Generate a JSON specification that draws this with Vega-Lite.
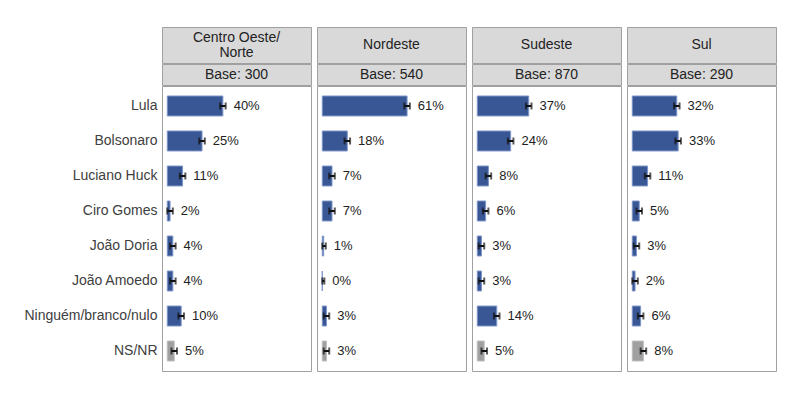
{
  "$schema": "https://vega.github.io/schema/vega-lite/v6.json",
  "background": "white",
  "padding": {"left": 23, "top": 26, "right": 0, "bottom": 0},
  "spacing": -2,
  "datasets": {
    "heads": [
      {"region": "Centro Oeste/Norte", "l1": "Centro Oeste/", "l2": "Norte", "base": "Base: 300"},
      {"region": "Nordeste", "l0": "Nordeste", "base": "Base: 540"},
      {"region": "Sudeste", "l0": "Sudeste", "base": "Base: 870"},
      {"region": "Sul", "l0": "Sul", "base": "Base: 290"}
    ],
    "votes": [
      {"region": "Centro Oeste/Norte", "cand": "Lula", "grp": "cand", "pct": 40, "lo": 38, "hi": 42, "lab": "40%"},
      {"region": "Centro Oeste/Norte", "cand": "Bolsonaro", "grp": "cand", "pct": 25, "lo": 23, "hi": 27, "lab": "25%"},
      {"region": "Centro Oeste/Norte", "cand": "Luciano Huck", "grp": "cand", "pct": 11, "lo": 9, "hi": 13, "lab": "11%"},
      {"region": "Centro Oeste/Norte", "cand": "Ciro Gomes", "grp": "cand", "pct": 2, "lo": 0, "hi": 4, "lab": "2%"},
      {"region": "Centro Oeste/Norte", "cand": "João Doria", "grp": "cand", "pct": 4, "lo": 2, "hi": 6, "lab": "4%"},
      {"region": "Centro Oeste/Norte", "cand": "João Amoedo", "grp": "cand", "pct": 4, "lo": 2, "hi": 6, "lab": "4%"},
      {"region": "Centro Oeste/Norte", "cand": "Ninguém/branco/nulo", "grp": "cand", "pct": 10, "lo": 8, "hi": 12, "lab": "10%"},
      {"region": "Centro Oeste/Norte", "cand": "NS/NR", "grp": "ns", "pct": 5, "lo": 3, "hi": 7, "lab": "5%"},
      {"region": "Nordeste", "cand": "Lula", "grp": "cand", "pct": 61, "lo": 59, "hi": 63, "lab": "61%"},
      {"region": "Nordeste", "cand": "Bolsonaro", "grp": "cand", "pct": 18, "lo": 16, "hi": 20, "lab": "18%"},
      {"region": "Nordeste", "cand": "Luciano Huck", "grp": "cand", "pct": 7, "lo": 5, "hi": 9, "lab": "7%"},
      {"region": "Nordeste", "cand": "Ciro Gomes", "grp": "cand", "pct": 7, "lo": 5, "hi": 9, "lab": "7%"},
      {"region": "Nordeste", "cand": "João Doria", "grp": "cand", "pct": 1, "lo": 0, "hi": 2.5, "lab": "1%"},
      {"region": "Nordeste", "cand": "João Amoedo", "grp": "cand", "pct": 0, "lo": 0, "hi": 1.5, "lab": "0%"},
      {"region": "Nordeste", "cand": "Ninguém/branco/nulo", "grp": "cand", "pct": 3, "lo": 1, "hi": 5, "lab": "3%"},
      {"region": "Nordeste", "cand": "NS/NR", "grp": "ns", "pct": 3, "lo": 1, "hi": 5, "lab": "3%"},
      {"region": "Sudeste", "cand": "Lula", "grp": "cand", "pct": 37, "lo": 35, "hi": 39, "lab": "37%"},
      {"region": "Sudeste", "cand": "Bolsonaro", "grp": "cand", "pct": 24, "lo": 22, "hi": 26, "lab": "24%"},
      {"region": "Sudeste", "cand": "Luciano Huck", "grp": "cand", "pct": 8, "lo": 6, "hi": 10, "lab": "8%"},
      {"region": "Sudeste", "cand": "Ciro Gomes", "grp": "cand", "pct": 6, "lo": 4, "hi": 8, "lab": "6%"},
      {"region": "Sudeste", "cand": "João Doria", "grp": "cand", "pct": 3, "lo": 1, "hi": 5, "lab": "3%"},
      {"region": "Sudeste", "cand": "João Amoedo", "grp": "cand", "pct": 3, "lo": 1, "hi": 5, "lab": "3%"},
      {"region": "Sudeste", "cand": "Ninguém/branco/nulo", "grp": "cand", "pct": 14, "lo": 12, "hi": 16, "lab": "14%"},
      {"region": "Sudeste", "cand": "NS/NR", "grp": "ns", "pct": 5, "lo": 3, "hi": 7, "lab": "5%"},
      {"region": "Sul", "cand": "Lula", "grp": "cand", "pct": 32, "lo": 30, "hi": 34, "lab": "32%"},
      {"region": "Sul", "cand": "Bolsonaro", "grp": "cand", "pct": 33, "lo": 31, "hi": 35, "lab": "33%"},
      {"region": "Sul", "cand": "Luciano Huck", "grp": "cand", "pct": 11, "lo": 9, "hi": 13, "lab": "11%"},
      {"region": "Sul", "cand": "Ciro Gomes", "grp": "cand", "pct": 5, "lo": 3, "hi": 7, "lab": "5%"},
      {"region": "Sul", "cand": "João Doria", "grp": "cand", "pct": 3, "lo": 1, "hi": 5, "lab": "3%"},
      {"region": "Sul", "cand": "João Amoedo", "grp": "cand", "pct": 2, "lo": 0, "hi": 4, "lab": "2%"},
      {"region": "Sul", "cand": "Ninguém/branco/nulo", "grp": "cand", "pct": 6, "lo": 4, "hi": 8, "lab": "6%"},
      {"region": "Sul", "cand": "NS/NR", "grp": "ns", "pct": 8, "lo": 6, "hi": 10, "lab": "8%"}
    ]
  },
  "vconcat": [
    {
      "data": {"name": "heads"},
      "facet": {"column": {"field": "region", "type": "nominal", "sort": ["Centro Oeste/Norte", "Nordeste", "Sudeste", "Sul"], "header": null}},
      "spacing": 6,
      "bounds": "flush",
      "spec": {
        "width": 149,
        "height": 36,
        "view": {"fill": "#d9d9d9", "stroke": "#a0a0a0"},
        "layer": [
          {
            "transform": [{"filter": "isValid(datum.l0)"}],
            "mark": {"type": "text", "fontSize": 14, "color": "#222222"},
            "encoding": {"text": {"field": "l0", "type": "nominal"}}
          },
          {
            "transform": [{"filter": "isValid(datum.l1)"}],
            "mark": {"type": "text", "fontSize": 14, "dy": -7.5, "color": "#222222"},
            "encoding": {"text": {"field": "l1", "type": "nominal"}}
          },
          {
            "transform": [{"filter": "isValid(datum.l2)"}],
            "mark": {"type": "text", "fontSize": 14, "dy": 7.5, "color": "#222222"},
            "encoding": {"text": {"field": "l2", "type": "nominal"}}
          }
        ]
      }
    },
    {
      "data": {"name": "heads"},
      "facet": {"column": {"field": "region", "type": "nominal", "sort": ["Centro Oeste/Norte", "Nordeste", "Sudeste", "Sul"], "header": null}},
      "spacing": 6,
      "bounds": "flush",
      "spec": {
        "width": 149,
        "height": 21,
        "view": {"fill": "#d9d9d9", "stroke": "#a0a0a0"},
        "mark": {"type": "text", "fontSize": 14, "color": "#222222"},
        "encoding": {"text": {"field": "base", "type": "nominal"}}
      }
    },
    {
      "data": {"name": "votes"},
      "facet": {"column": {"field": "region", "type": "nominal", "sort": ["Centro Oeste/Norte", "Nordeste", "Sudeste", "Sul"], "header": null}},
      "spacing": 6,
      "bounds": "flush",
      "spec": {
        "width": 149,
        "height": 285,
        "view": {"stroke": "#a0a0a0"},
        "encoding": {
          "y": {
            "field": "cand",
            "type": "nominal",
            "sort": ["Lula", "Bolsonaro", "Luciano Huck", "Ciro Gomes", "João Doria", "João Amoedo", "Ninguém/branco/nulo", "NS/NR"],
            "scale": {"paddingInner": 0.43, "paddingOuter": 0.286},
            "axis": {"title": null, "domain": false, "ticks": false, "labelPadding": 5, "labelFontSize": 14, "labelColor": "#404040"}
          }
        },
        "layer": [
          {
            "mark": {"type": "bar", "strokeWidth": 1},
            "encoding": {
              "x": {"field": "pct", "type": "quantitative", "scale": {"domain": [-3.8, 103.4], "nice": false, "zero": false}, "axis": null},
              "x2": {"datum": 0},
              "color": {"field": "grp", "type": "nominal", "scale": {"domain": ["cand", "ns"], "range": ["#3a5795", "#a0a0a0"]}, "legend": null},
              "stroke": {"field": "grp", "type": "nominal", "scale": {"domain": ["cand", "ns"], "range": ["#7d95c9", "#bdbdbd"]}, "legend": null}
            }
          },
          {
            "mark": {"type": "rule", "strokeWidth": 2, "color": "#111111"},
            "encoding": {
              "x": {"field": "lo", "type": "quantitative"},
              "x2": {"field": "hi"}
            }
          },
          {
            "mark": {"type": "tick", "size": 7, "thickness": 2, "color": "#111111"},
            "encoding": {"x": {"field": "lo", "type": "quantitative"}}
          },
          {
            "mark": {"type": "tick", "size": 7, "thickness": 2, "color": "#111111"},
            "encoding": {"x": {"field": "hi", "type": "quantitative"}}
          },
          {
            "mark": {"type": "text", "align": "left", "baseline": "middle", "dx": 8, "fontSize": 13, "color": "#222222"},
            "encoding": {
              "x": {"field": "hi", "type": "quantitative"},
              "text": {"field": "lab", "type": "nominal"}
            }
          }
        ]
      }
    }
  ],
  "config": {
    "font": "Liberation Sans",
    "view": {"stroke": "#a0a0a0"}
  }
}
